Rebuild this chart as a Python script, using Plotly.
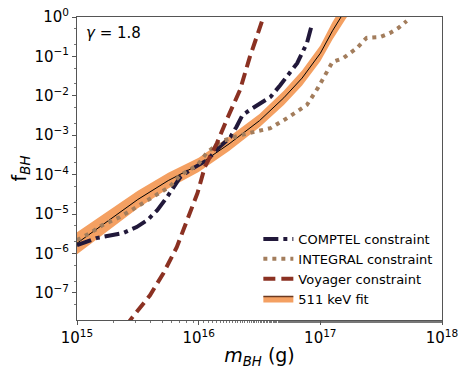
import numpy as np
import plotly.graph_objects as go

# log10 of mass (g) and log10 of f_BH
comptel_logm = [15.00, 15.16, 15.38, 15.49, 15.58, 15.66, 15.74, 15.85, 15.93, 16.07,
                16.17, 16.26, 16.31, 16.36, 16.42, 16.59, 16.67, 16.81, 16.89, 16.93]
comptel_logf = [-5.79, -5.61, -5.48, -5.33, -5.15, -4.90, -4.57, -4.06, -3.88, -3.63,
                -3.30, -3.05, -2.79, -2.49, -2.36, -2.03, -1.73, -1.17, -0.66, -0.20]

integral_logm = [15.00, 15.11, 15.21, 15.35, 15.49, 15.62, 15.76, 15.85, 15.99, 16.07,
                 16.19, 16.34, 16.45, 16.59, 16.73, 16.89, 16.98, 17.05, 17.10, 17.19,
                 17.30, 17.38, 17.49, 17.57, 17.64, 17.71]
integral_logf = [-5.66, -5.48, -5.28, -5.08, -4.82, -4.57, -4.31, -4.01, -3.76, -3.43,
                 -3.15, -3.00, -2.92, -2.82, -2.56, -2.23, -1.80, -1.40, -1.14, -1.04,
                 -0.79, -0.53, -0.51, -0.41, -0.28, -0.10]

voyager_logm = [15.40, 15.45, 15.60, 15.71, 15.82, 15.91, 15.99, 16.05, 16.15, 16.23,
                16.34, 16.42, 16.52, 16.56]
voyager_logf = [-7.85, -7.64, -7.06, -6.50, -5.84, -5.15, -4.47, -3.81, -3.20, -2.61,
                -1.85, -1.02, -0.13, 0.25]

fit_logm = [15.00, 15.25, 15.50, 15.75, 16.00, 16.25, 16.50, 16.70, 16.85, 17.00,
            17.10, 17.20, 17.25]
fit_logf = [-5.74, -5.18, -4.63, -4.15, -3.75, -3.22, -2.63, -2.05, -1.55, -0.92,
            -0.35, 0.15, 0.40]
fit_lo = [-6.02, -5.43, -4.85, -4.35, -3.93, -3.40, -2.80, -2.23, -1.74, -1.12,
          -0.57, -0.09, 0.15]
fit_hi = [-5.46, -4.93, -4.41, -3.95, -3.57, -3.04, -2.46, -1.87, -1.36, -0.72,
          -0.13, 0.39, 0.65]

x_tick_exp = [15, 16, 17, 18]
y_tick_exp = [-7, -6, -5, -4, -3, -2, -1, 0]


def p(a):
    return 10 ** np.array(a, dtype=float)


def power_labels(exps):
    return ['10<sup>%s</sup>' % str(e).replace('-', '\u2212') for e in exps]


fig = go.Figure()

# 511 keV band and central line
fig.add_trace(go.Scatter(x=p(fit_logm), y=p(fit_lo), mode='lines',
                         line=dict(width=0, color='#f4a062'), showlegend=False,
                         hoverinfo='skip'))
fig.add_trace(go.Scatter(x=p(fit_logm), y=p(fit_hi), mode='lines', fill='tonexty',
                         fillcolor='#f4a062', line=dict(width=0, color='#f4a062'),
                         showlegend=False, hoverinfo='skip'))
fig.add_trace(go.Scatter(x=p(fit_logm), y=p(fit_logf), mode='lines',
                         line=dict(width=1, color='black'), showlegend=False))

fig.add_trace(go.Scatter(x=p(comptel_logm), y=p(comptel_logf), mode='lines',
                         name='COMPTEL constraint',
                         line=dict(width=4, color='#21183a', dash='15px,5px,4px,5px')))
fig.add_trace(go.Scatter(x=p(integral_logm), y=p(integral_logf), mode='lines',
                         name='INTEGRAL constraint',
                         line=dict(width=4, color='#a37d5c', dash='4px,5px')))
fig.add_trace(go.Scatter(x=p(voyager_logm), y=p(voyager_logf), mode='lines',
                         name='Voyager constraint',
                         line=dict(width=4, color='#8b3122', dash='12px,6px')))
# legend entry for the fit
fig.add_trace(go.Scatter(x=[None, None, None], y=[None, None, None], mode='lines',
                         fill='toself', fillcolor='#f4a062', name='511 keV fit',
                         line=dict(width=1.5, color='#6b3a20')))

fig.add_annotation(x=0.02, y=0.985, xref='paper', yref='paper', text='<i>γ</i> = 1.8',
                   showarrow=False, xanchor='left', yanchor='top',
                   font=dict(size=15, color='black'))

axis_common = dict(type='log', showline=True, linecolor='#555', linewidth=1, mirror=True,
                   ticks='outside', ticklen=4, tickcolor='#555', showgrid=False,
                   zeroline=False, automargin=False, ticklabeloverflow='allow',
                   tickfont=dict(size=15, color='black'),
                   minor=dict(ticks='outside', ticklen=2, tickcolor='#777', showgrid=False))

# the page body adds 8px, so margins are trimmed on the left/top
fig.update_layout(
    width=471, height=377,
    margin=dict(l=69, r=37, t=9, b=65),
    paper_bgcolor='white', plot_bgcolor='white',
    font=dict(family='DejaVu Sans', color='black'),
    xaxis=dict(axis_common, range=[15, 18],
               tickvals=p(x_tick_exp), ticktext=power_labels(x_tick_exp),
               title=dict(text='<i>m</i><sub><i>BH</i></sub> (g)', font=dict(size=19),
                          standoff=2)),
    yaxis=dict(axis_common, range=[np.log10(2.05e-8), 0],
               tickvals=p(y_tick_exp), ticktext=power_labels(y_tick_exp),
               title=dict(text='f<sub><i>BH</i></sub>', font=dict(size=19), standoff=4)),
    legend=dict(x=0.99, y=0.02, xanchor='right', yanchor='bottom', traceorder='normal',
                bgcolor='rgba(0,0,0,0)', font=dict(size=13), itemwidth=30,
                tracegroupgap=0),
    showlegend=True,
)

fig.write_html("out.html")
